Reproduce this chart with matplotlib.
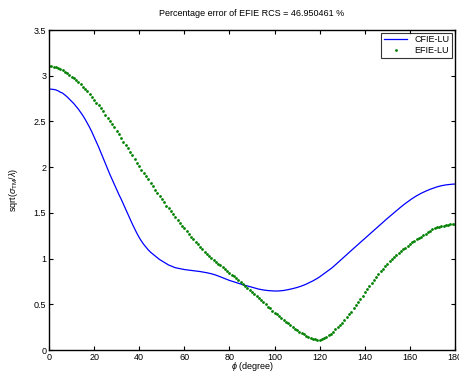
import numpy as np
import matplotlib.pyplot as plt

plt.rcParams['font.family'] = ['Liberation Sans', 'DejaVu Sans']
plt.rcParams['mathtext.fontset'] = 'custom'
plt.rcParams['mathtext.rm'] = 'Liberation Sans'
plt.rcParams['mathtext.it'] = 'Liberation Sans:italic'

phi = np.arange(0, 181)  # degrees, 1 deg step

cfie = [
    2.855, 2.853, 2.85, 2.845, 2.835, 2.82, 2.81, 2.79, 2.77, 2.745,
    2.72, 2.695, 2.665, 2.635, 2.60, 2.565, 2.525, 2.48, 2.435, 2.385,
    2.33, 2.275, 2.22, 2.16, 2.10, 2.04, 1.98, 1.92, 1.865, 1.81,
    1.755, 1.70, 1.65, 1.595, 1.54, 1.485, 1.43, 1.375, 1.325, 1.275,
    1.23, 1.19, 1.155, 1.125, 1.095, 1.07, 1.05, 1.03, 1.01, 0.99,
    0.975, 0.96, 0.945, 0.93, 0.92, 0.91, 0.90, 0.895, 0.89, 0.885,
    0.88, 0.877, 0.874, 0.871, 0.868, 0.865, 0.862, 0.858, 0.854, 0.85,
    0.845, 0.84, 0.834, 0.827, 0.819, 0.81, 0.80, 0.79, 0.78, 0.77,
    0.761, 0.753, 0.745, 0.737, 0.729, 0.721, 0.714, 0.707, 0.70, 0.693,
    0.686, 0.679, 0.672, 0.666, 0.661, 0.657, 0.653, 0.65, 0.648, 0.646,
    0.645, 0.645, 0.646, 0.648, 0.651, 0.655, 0.66, 0.665, 0.671, 0.677,
    0.684, 0.692, 0.70, 0.71, 0.72, 0.732, 0.744, 0.756, 0.77, 0.784,
    0.80, 0.818, 0.836, 0.854, 0.872, 0.89, 0.91, 0.932, 0.954, 0.976,
    0.998, 1.02, 1.043, 1.066, 1.088, 1.11, 1.132, 1.154, 1.176, 1.198,
    1.22, 1.242, 1.264, 1.286, 1.308, 1.33, 1.352, 1.374, 1.396, 1.418,
    1.439, 1.46, 1.482, 1.503, 1.524, 1.544, 1.564, 1.584, 1.603, 1.621,
    1.639, 1.656, 1.672, 1.687, 1.701, 1.714, 1.726, 1.737, 1.748, 1.758,
    1.767, 1.776, 1.784, 1.791, 1.797, 1.802, 1.806, 1.809, 1.812, 1.814,
    1.815,
]

efie = [
    3.105, 3.103, 3.10, 3.095, 3.085, 3.075, 3.06, 3.045, 3.03, 3.01,
    2.99, 2.97, 2.95, 2.93, 2.905, 2.88, 2.855, 2.83, 2.80, 2.77,
    2.735, 2.705, 2.675, 2.645, 2.61, 2.575, 2.54, 2.505, 2.47, 2.435,
    2.40, 2.36, 2.32, 2.28, 2.245, 2.21, 2.17, 2.13, 2.09, 2.05,
    2.01, 1.97, 1.935, 1.90, 1.865, 1.83, 1.79, 1.755, 1.72, 1.685,
    1.65, 1.615, 1.58, 1.55, 1.52, 1.49, 1.455, 1.425, 1.39, 1.36,
    1.33, 1.30, 1.27, 1.24, 1.21, 1.185, 1.155, 1.13, 1.10, 1.075,
    1.05, 1.03, 1.005, 0.985, 0.965, 0.945, 0.925, 0.905, 0.885, 0.865,
    0.845, 0.825, 0.805, 0.785, 0.765, 0.745, 0.72, 0.70, 0.68, 0.655,
    0.635, 0.61, 0.59, 0.565, 0.545, 0.52, 0.50, 0.475, 0.455, 0.43,
    0.41, 0.39, 0.37, 0.35, 0.33, 0.31, 0.29, 0.27, 0.25, 0.235,
    0.215, 0.20, 0.185, 0.17, 0.155, 0.14, 0.13, 0.122, 0.116, 0.113,
    0.114, 0.12, 0.13, 0.145, 0.16, 0.18, 0.20, 0.225, 0.25, 0.275,
    0.30, 0.33, 0.36, 0.39, 0.42, 0.455, 0.49, 0.525, 0.56, 0.595,
    0.63, 0.665, 0.70, 0.735, 0.77, 0.80, 0.83, 0.86, 0.89, 0.92,
    0.945, 0.97, 0.995, 1.02, 1.04, 1.06, 1.08, 1.10, 1.12, 1.14,
    1.16, 1.18, 1.195, 1.21, 1.225, 1.24, 1.255, 1.27, 1.29, 1.305,
    1.32, 1.33, 1.34, 1.35, 1.355, 1.36, 1.365, 1.37, 1.373, 1.376,
    1.378,
]

fig = plt.figure(figsize=(4.59, 3.76), dpi=100)
ax = fig.add_axes([49 / 459, 26 / 376, 406 / 459, 320 / 376])

ax.plot(phi, cfie, color='#0000ff', lw=0.9, label='CFIE-LU')
ax.plot(phi, efie, ls='none', marker='o', ms=2.0, mew=0,
        color='#008000', label='EFIE-LU')

ax.set_xlim(0, 180)
ax.set_ylim(0, 3.5)
ax.set_xticks(np.arange(0, 181, 20))
ax.set_yticks(np.arange(0, 3.51, 0.5))
ax.set_yticklabels(['0', '0.5', '1', '1.5', '2', '2.5', '3', '3.5'])
ax.tick_params(direction='in', top=True, right=True, length=3,
               width=0.8, labelsize=6.5, pad=2)
for s in ax.spines.values():
    s.set_linewidth(1.0)

ax.set_title('Percentage error of EFIE RCS = 46.950461 %', fontsize=6.5, pad=10)
ax.set_xlabel(r'$\phi$ (degree)', fontsize=6.5, labelpad=-1)
ax.set_ylabel(r'sqrt($\sigma_{\rm TM}/\lambda$)', fontsize=6.5, labelpad=10)

leg = ax.legend(loc='upper right', fontsize=6.5, frameon=True, fancybox=False,
                edgecolor='black', borderaxespad=0.3, handlelength=2.6,
                borderpad=0.3, labelspacing=0.2, markerscale=1.0)
leg.get_frame().set_linewidth(0.8)

fig.savefig('out.png', dpi=100)
